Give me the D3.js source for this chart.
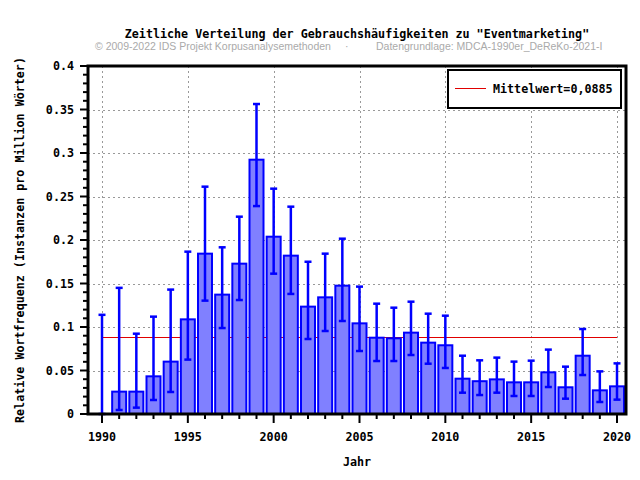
<!DOCTYPE html>
<html>
<head>
<meta charset="utf-8">
<script src="https://cdn.jsdelivr.net/npm/d3@7"></script>
<style>
    body { margin: 0; background: #fff; }
    text { font-family: 'DejaVu Sans Mono', monospace; font-weight: bold; }
</style>
</head>
<body>
<svg id="chart" width="640" height="480"></svg>
<script>
'use strict';

const years = d3.range(1990, 2021);
const values = [0, 0.0257, 0.0257, 0.0433, 0.0602, 0.1088, 0.1843, 0.1372, 0.1728, 0.2923,
    0.2038, 0.182, 0.1234, 0.1341, 0.1475, 0.1042, 0.0877, 0.087, 0.0935, 0.082,
    0.079, 0.0406, 0.0377, 0.0398, 0.0364, 0.0364, 0.0479, 0.0307, 0.067, 0.0272, 0.0318];
const errLow = [0, 0.0046, 0.0073, 0.0161, 0.0253, 0.0625, 0.1303, 0.0988, 0.131, 0.239,
    0.1613, 0.138, 0.0862, 0.0954, 0.1069, 0.0724, 0.0609, 0.0609, 0.0678, 0.0578,
    0.0529, 0.0245, 0.0218, 0.0245, 0.0207, 0.0207, 0.031, 0.0176, 0.0448, 0.0138, 0.0165];
const errHigh = [0.114, 0.145, 0.0923, 0.1119, 0.143, 0.1866, 0.2613, 0.1916, 0.2268, 0.3563,
    0.259, 0.2383, 0.175, 0.1843, 0.2015, 0.1464, 0.1268, 0.1222, 0.1291, 0.1153,
    0.113, 0.067, 0.0617, 0.0648, 0.0602, 0.0613, 0.074, 0.0544, 0.0977, 0.049, 0.0582];
const mean = 0.0885;
const yTicks = [0, 0.05, 0.1, 0.15, 0.2, 0.25, 0.3, 0.35, 0.4];
const xTicks = [1990, 1995, 2000, 2005, 2010, 2015, 2020];

const data = years.map((year, i) => ({year, value: values[i], low: errLow[i], high: errHigh[i]}));

const frame = {left: 88, right: 626, top: 66, bottom: 414};
const x = d3.scaleLinear().domain([1990, 2020]).range([102, 617]);
const y = d3.scaleLinear().domain([0, 0.4]).range([frame.bottom, frame.top]);
const barWidth = 14;

const svg = d3.select('#chart');

// titles
svg.append('text')
    .attr('x', 357)
    .attr('y', 38)
    .attr('text-anchor', 'middle')
    .attr('font-size', 11.7)
    .text('Zeitliche Verteilung der Gebrauchshäufigkeiten zu "Eventmarketing"');

const sub = svg.append('g')
    .attr('font-family', "'Liberation Sans', Arial, sans-serif")
    .attr('font-size', 10.5)
    .attr('fill', '#aaa');
sub.append('text').attr('x', 95).attr('y', 50)
    .style('font-family', "'Liberation Sans', Arial, sans-serif").style('font-weight', 'normal')
    .text('© 2009-2022 IDS Projekt Korpusanalysemethoden');
sub.append('text').attr('x', 345).attr('y', 50)
    .style('font-family', "'Liberation Sans', Arial, sans-serif").style('font-weight', 'normal')
    .text('·');
sub.append('text').attr('x', 376).attr('y', 50)
    .style('font-family', "'Liberation Sans', Arial, sans-serif").style('font-weight', 'normal')
    .text('Datengrundlage: MDCA-1990er_DeReKo-2021-I');

// grid
const grid = svg.append('g')
    .attr('stroke', '#999')
    .attr('stroke-width', 1)
    .attr('stroke-dasharray', '2,3');
grid.selectAll('line.h')
    .data(yTicks.filter(t => t > 0 && t < 0.4))
    .join('line')
    .attr('x1', frame.left).attr('x2', frame.right)
    .attr('y1', d => Math.round(y(d)) + 0.5).attr('y2', d => Math.round(y(d)) + 0.5);
grid.selectAll('line.v')
    .data(xTicks)
    .join('line')
    .attr('x1', d => Math.round(x(d)) + 0.5).attr('x2', d => Math.round(x(d)) + 0.5)
    .attr('y1', frame.top).attr('y2', frame.bottom);

// mean line
svg.append('line')
    .attr('x1', x(1990)).attr('x2', x(2020))
    .attr('y1', Math.round(y(mean)) + 0.5).attr('y2', Math.round(y(mean)) + 0.5)
    .attr('stroke', '#e00000')
    .attr('stroke-width', 1);

// bars
svg.append('g')
    .selectAll('rect')
    .data(data.filter(d => d.value > 0))
    .join('rect')
    .attr('x', d => x(d.year) - barWidth / 2)
    .attr('width', barWidth)
    .attr('y', d => y(d.value))
    .attr('height', d => y(0) - y(d.value))
    .attr('fill', '#8080ff')
    .attr('stroke', '#0000ff')
    .attr('stroke-width', 2);

// error bars
const err = svg.append('g')
    .attr('stroke', '#0000ff')
    .attr('stroke-width', 2.5);
err.selectAll('line.stem')
    .data(data)
    .join('line')
    .attr('x1', d => x(d.year)).attr('x2', d => x(d.year))
    .attr('y1', d => y(d.low)).attr('y2', d => y(d.high));
err.selectAll('line.capHigh')
    .data(data)
    .join('line')
    .attr('x1', d => x(d.year) - 3.5).attr('x2', d => x(d.year) + 3.5)
    .attr('y1', d => y(d.high)).attr('y2', d => y(d.high));
err.selectAll('line.capLow')
    .data(data)
    .join('line')
    .attr('x1', d => x(d.year) - 3.5).attr('x2', d => x(d.year) + 3.5)
    .attr('y1', d => y(d.low)).attr('y2', d => y(d.low));

// frame
svg.append('rect')
    .attr('x', frame.left).attr('y', frame.top)
    .attr('width', frame.right - frame.left).attr('height', frame.bottom - frame.top)
    .attr('fill', 'none')
    .attr('stroke', 'black')
    .attr('stroke-width', 3);

// y axis ticks
const yMinor = d3.range(0, 41).map(i => i / 100);
svg.append('g')
    .attr('stroke', 'black')
    .attr('stroke-width', 2)
    .selectAll('line')
    .data(yMinor)
    .join('line')
    .attr('x1', (d, i) => i % 5 === 0 ? frame.left - 8 : frame.left - 5)
    .attr('x2', frame.left)
    .attr('y1', d => y(d)).attr('y2', d => y(d));

svg.append('g')
    .attr('font-size', 11.7)
    .attr('text-anchor', 'end')
    .selectAll('text')
    .data(yTicks)
    .join('text')
    .attr('x', 74)
    .attr('y', d => y(d) + 4)
    .text(d => d3.format('')(d));

// x axis ticks
svg.append('g')
    .attr('stroke', 'black')
    .attr('stroke-width', 2)
    .selectAll('line')
    .data(years)
    .join('line')
    .attr('x1', d => x(d)).attr('x2', d => x(d))
    .attr('y1', frame.bottom)
    .attr('y2', d => d % 5 === 0 ? frame.bottom + 9 : frame.bottom + 5);

svg.append('g')
    .attr('font-size', 11.7)
    .attr('text-anchor', 'middle')
    .selectAll('text')
    .data(xTicks)
    .join('text')
    .attr('x', d => x(d))
    .attr('y', 441)
    .text(d => d);

// axis labels
svg.append('text')
    .attr('x', 357)
    .attr('y', 466)
    .attr('text-anchor', 'middle')
    .attr('font-size', 11.7)
    .text('Jahr');

svg.append('text')
    .attr('transform', 'translate(24,240) rotate(-90)')
    .attr('text-anchor', 'middle')
    .attr('font-size', 11.7)
    .text('Relative Wortfrequenz (Instanzen pro Million Wörter)');

// legend
const legend = svg.append('g');
legend.append('rect')
    .attr('x', 448).attr('y', 70)
    .attr('width', 173).attr('height', 38)
    .attr('fill', 'white')
    .attr('stroke', 'black')
    .attr('stroke-width', 2);
legend.append('line')
    .attr('x1', 455).attr('x2', 486)
    .attr('y1', 88.5).attr('y2', 88.5)
    .attr('stroke', '#e00000')
    .attr('stroke-width', 1);
legend.append('text')
    .attr('x', 493)
    .attr('y', 93)
    .attr('font-size', 11.7)
    .text('Mittelwert=0,0885');
</script>
</body>
</html>
